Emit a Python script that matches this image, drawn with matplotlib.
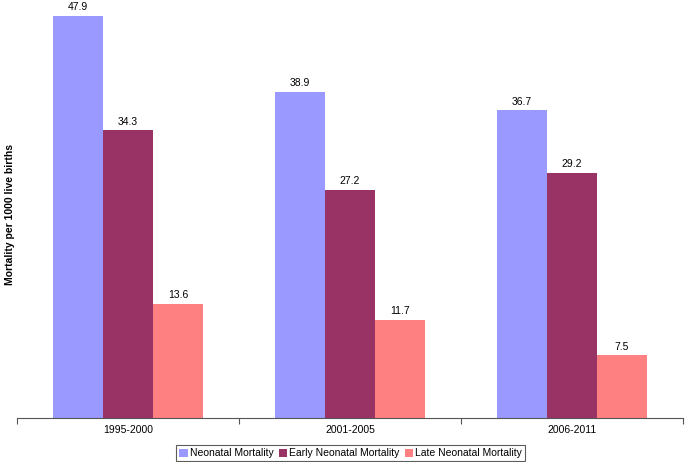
import matplotlib.pyplot as plt
import numpy as np

plt.rcParams['font.family'] = ['Liberation Sans', 'DejaVu Sans']

periods = ['1995-2000', '2001-2005', '2006-2011']
neonatal = [47.9, 38.9, 36.7]
early_neonatal = [34.3, 27.2, 29.2]
late_neonatal = [13.6, 11.7, 7.5]
series_names = ['Neonatal Mortality', 'Early Neonatal Mortality', 'Late Neonatal Mortality']
colors = ['#9999FF', '#993366', '#FF8080']

fig = plt.figure(figsize=(6.85, 4.62), dpi=100)
ax = fig.add_axes([0.025, 0.095, 0.972, 0.905])

x = np.arange(len(periods))
w = 0.225
for i, (vals, name, c) in enumerate(zip([neonatal, early_neonatal, late_neonatal], series_names, colors)):
    bars = ax.bar(x + (i - 1) * w, vals, width=w, color=c, label=name)
    for b, v in zip(bars, vals):
        ax.annotate(f'{v}', (b.get_x() + b.get_width() / 2, v), xytext=(0, 2.5),
                    textcoords='offset points', ha='center', va='bottom', fontsize=7.5)

ax.set_xlim(-0.5, 2.5)
ax.set_ylim(0, 49.8)
ax.set_yticks([])
ax.set_xticks([-0.5, 0.5, 1.5, 2.5])
ax.set_xticklabels([])
ax.set_xticks(x, minor=True)
ax.set_xticklabels(periods, minor=True, fontsize=7.5)
ax.tick_params(axis='x', which='major', length=4, color='#555555', direction='out')
ax.tick_params(axis='x', which='minor', length=0, pad=5)
for s in ['top', 'right', 'left']:
    ax.spines[s].set_visible(False)
ax.spines['bottom'].set_color('#555555')

fig.text(0.008, 0.535, 'Mortality per 1000 live births', rotation=90, fontsize=7.5,
         fontweight='bold', ha='left', va='center')

leg = fig.legend(loc='lower center', bbox_to_anchor=(0.512, -0.01), ncol=3, fontsize=7.5,
                 frameon=True, fancybox=False, handlelength=0.8, handleheight=0.8,
                 handletextpad=0.2, columnspacing=0.5, borderpad=0.3)
leg.get_frame().set_edgecolor('#333333')
leg.get_frame().set_linewidth(0.8)

fig.savefig('out.png', dpi=100)
